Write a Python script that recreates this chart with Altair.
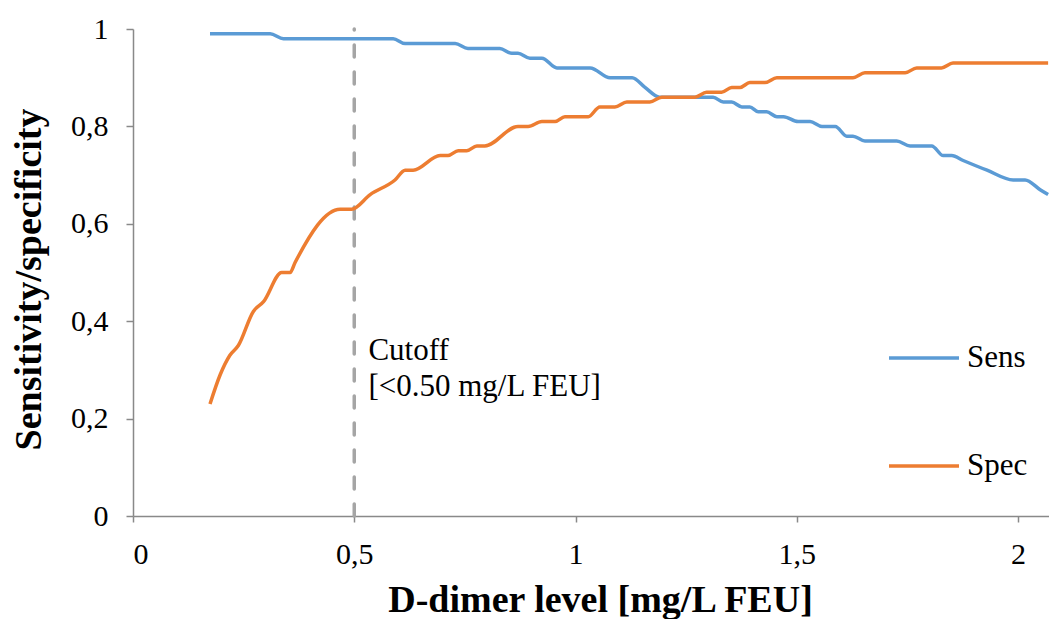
import altair as alt
import pandas as pd

sens_x = [0.174, 0.31, 0.34, 0.588, 0.615, 0.728, 0.757, 0.829, 0.856, 0.87, 0.897, 0.924, 0.958, 1.033,
          1.078, 1.128, 1.157, 1.19, 1.311, 1.334, 1.353, 1.376, 1.394, 1.413, 1.432, 1.455, 1.47, 1.503,
          1.53, 1.557, 1.587, 1.613, 1.627, 1.654, 1.726, 1.756, 1.805, 1.831, 1.85, 1.876, 1.93, 1.989,
          2.016, 2.05, 2.068]
sens_y = [0.99, 0.99, 0.98, 0.98, 0.97, 0.97, 0.96, 0.96, 0.95, 0.95, 0.94, 0.94, 0.92, 0.92,
          0.90, 0.90, 0.88, 0.86, 0.86, 0.85, 0.85, 0.84, 0.84, 0.83, 0.83, 0.82, 0.82, 0.81,
          0.81, 0.80, 0.80, 0.78, 0.78, 0.77, 0.77, 0.76, 0.76, 0.74, 0.74, 0.73, 0.71, 0.69,
          0.69, 0.67, 0.66]

spec_x = [0.174, 0.197, 0.219, 0.238, 0.272, 0.295, 0.336, 0.355, 0.366, 0.468, 0.494, 0.536, 0.592,
          0.615, 0.633, 0.694, 0.712, 0.735, 0.754, 0.777, 0.795, 0.87, 0.893, 0.924, 0.954, 0.976,
          1.029, 1.055, 1.089, 1.116, 1.168, 1.195, 1.27, 1.296, 1.33, 1.353, 1.372, 1.394, 1.428,
          1.455, 1.627, 1.654, 1.745, 1.771, 1.827, 1.853, 2.068]
spec_y = [0.23, 0.29, 0.33, 0.35, 0.42, 0.44, 0.50, 0.50, 0.52, 0.63, 0.63, 0.66, 0.69,
          0.71, 0.71, 0.74, 0.74, 0.75, 0.75, 0.76, 0.76, 0.80, 0.80, 0.81, 0.81, 0.82,
          0.82, 0.84, 0.84, 0.85, 0.85, 0.86, 0.86, 0.87, 0.87, 0.88, 0.88, 0.89, 0.89,
          0.90, 0.90, 0.91, 0.91, 0.92, 0.92, 0.93, 0.93]

series_names = ["Sens", "Spec"]
series_colors = ["#5B9BD5", "#ED7D31"]

cutoff_value = 0.5
cutoff_lines = ["Cutoff", "[<0.50 mg/L FEU]"]
cutoff_text_x = [0.532, 0.532]
cutoff_text_y = [0.32, 0.246]

x_ticks = [0, 0.5, 1, 1.5, 2]
y_ticks = [0, 0.2, 0.4, 0.6, 0.8, 1]

FONT = "Liberation Serif"

df = pd.concat([
    pd.DataFrame({"x": sens_x, "y": sens_y, "series": "Sens", "order": range(len(sens_x))}),
    pd.DataFrame({"x": spec_x, "y": spec_y, "series": "Spec", "order": range(len(spec_x))}),
])

xscale = alt.Scale(domain=[0, 2.07], nice=False, zero=False)
yscale = alt.Scale(domain=[0, 1], nice=False)

lines = alt.Chart(df).mark_line(strokeWidth=3.5, interpolate="monotone").encode(
    x=alt.X("x:Q", scale=xscale,
            axis=alt.Axis(title="D-dimer level [mg/L FEU]", values=x_ticks,
                          labelExpr="replace(toString(datum.value), '.', ',')",
                          grid=False, tickSize=6, labelPadding=17,
                          titleX=467, titleY=84, titleBaseline="middle", titleAlign="center")),
    y=alt.Y("y:Q", scale=yscale,
            axis=alt.Axis(title="Sensitivity/specificity", values=y_ticks,
                          labelExpr="replace(toString(datum.value), '.', ',')",
                          grid=False, tickSize=7, labelPadding=18,
                          titleX=-104, titleY=250, titleAngle=270,
                          titleBaseline="middle", titleAlign="center")),
    color=alt.Color("series:N",
                    scale=alt.Scale(domain=series_names, range=series_colors),
                    legend=alt.Legend(title=None, orient="none", legendX=754, legendY=292,
                                      symbolType="stroke", symbolSize=4900, symbolStrokeWidth=3.5,
                                      labelFontSize=31, labelFont=FONT, labelColor="#000000",
                                      labelOffset=6, rowPadding=56)),
    order="order:Q",
)

cutoff_df = pd.DataFrame({"x": [cutoff_value], "y0": [0.0], "y1": [1.0]})
cutoff_rule = alt.Chart(cutoff_df).mark_rule(
    color="#A5A5A5", strokeWidth=3.5, strokeDash=[12, 15], strokeCap="round"
).encode(x="x:Q", y="y0:Q", y2="y1:Q")

text_df = pd.DataFrame({"x": cutoff_text_x, "y": cutoff_text_y, "t": cutoff_lines})
cutoff_text = alt.Chart(text_df).mark_text(
    align="left", baseline="alphabetic", font=FONT, fontSize=31, color="#000000"
).encode(x="x:Q", y="y:Q", text="t:N")

chart = alt.layer(cutoff_rule, lines, cutoff_text).properties(
    width=916, height=487,
    autosize=alt.AutoSizeParams(type="none"),
    padding={"left": 133, "top": 29, "right": 0, "bottom": 103},
).configure_view(stroke=None).configure_axis(
    domainColor="#898989", tickColor="#898989", domainWidth=1.5, tickWidth=1.5,
    labelFont=FONT, labelFontSize=30, labelColor="#000000",
    titleFont=FONT, titleFontSize=38, titleFontWeight="bold", titleColor="#000000",
)

chart.save("out.html", embed_options={"renderer": "svg", "actions": False})
